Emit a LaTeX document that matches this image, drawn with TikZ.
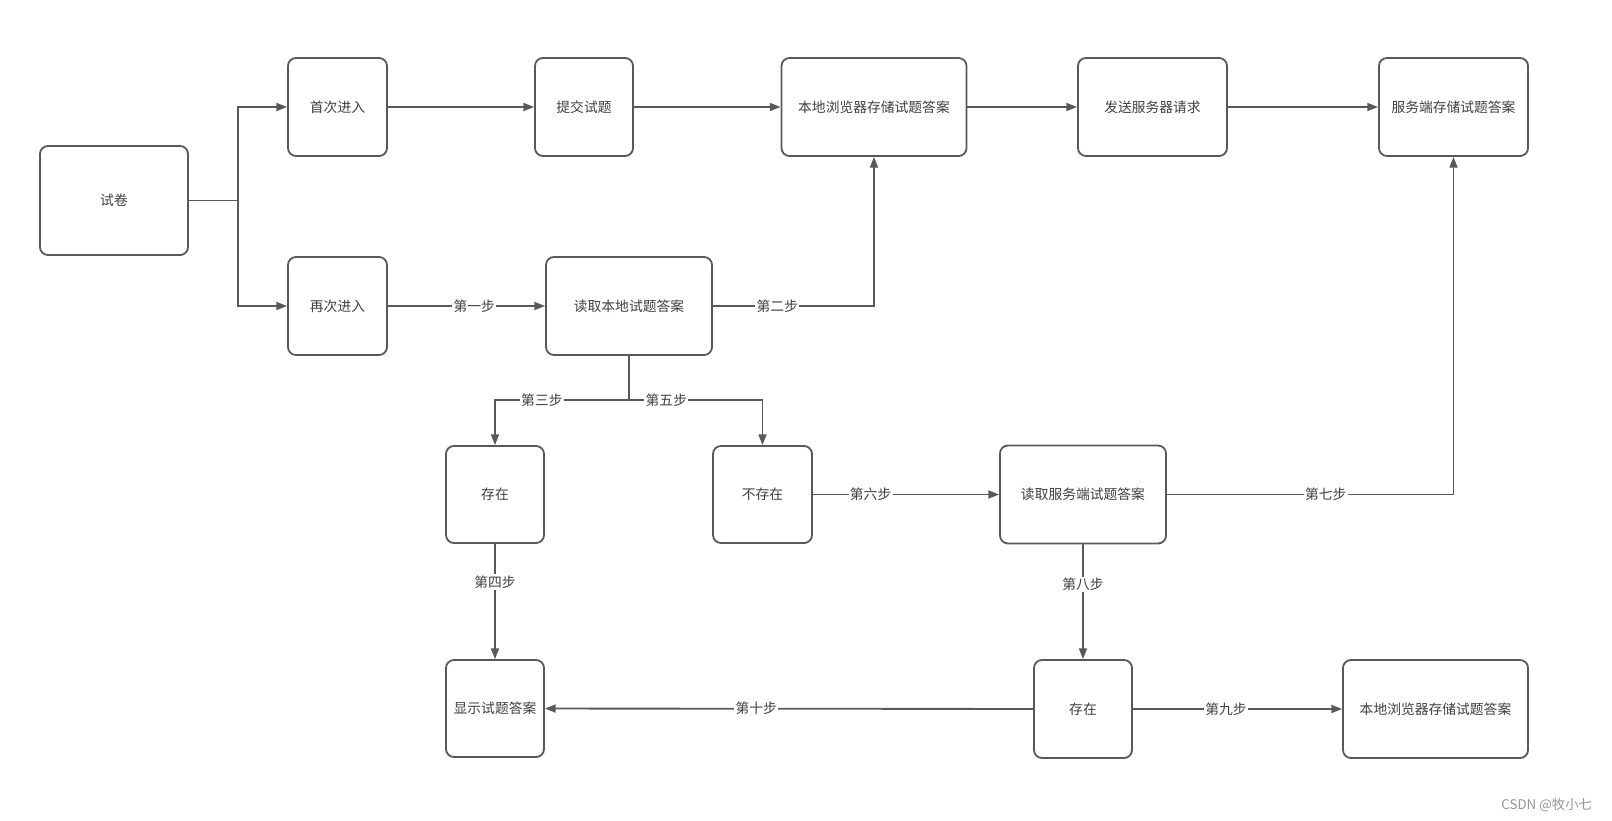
\documentclass[tikz,border=0pt]{standalone}
\usepackage{fontspec}
\newfontfamily\cjk{Noto Sans CJK SC}
\usepackage{tikz}
\usetikzlibrary{arrows.meta, positioning, calc}
\definecolor{linegray}{RGB}{89,89,89}
\definecolor{textgray}{RGB}{64,64,64}
\definecolor{markgray}{RGB}{150,150,150}

\begin{document}
\begin{tikzpicture}[x=0.025cm, y=-0.025cm,
    >={Triangle[length=0.27cm, width=0.2cm]},
    box/.style={draw=linegray, line width=1.3pt, rounded corners=0.2cm, fill=white,
      inner sep=1pt, text=textgray, font=\cjk\fontsize{9.8}{12}\selectfont, align=center},
    link/.style={draw=linegray, line width=1.3pt},
    steplabel/.style={fill=white, inner sep=1pt, text=textgray, font=\cjk\fontsize{9.8}{12}\selectfont}]
      \useasboundingbox (0,0) rectangle (1612,821);

      % top row
      \node[box, minimum width=3.7cm, minimum height=2.725cm] (paper) at (114,200.5) {试卷};
      \node[box, minimum width=2.475cm, minimum height=2.45cm] (first) at (337.5,107) {首次进入};
      \node[box, minimum width=2.45cm, minimum height=2.45cm] (submit) at (584,107) {提交试题};
      \node[box, minimum width=4.625cm, minimum height=2.45cm] (localsave) at (874,107) {本地浏览器存储试题答案};
      \node[box, minimum width=3.725cm, minimum height=2.45cm] (request) at (1152.5,107) {发送服务器请求};
      \node[box, minimum width=3.725cm, minimum height=2.45cm] (serversave) at (1453.5,107) {服务端存储试题答案};

      % second row
      \node[box, minimum width=2.475cm, minimum height=2.45cm] (again) at (337.5,306) {再次进入};
      \node[box, minimum width=4.15cm, minimum height=2.45cm] (readlocal) at (629,306) {读取本地试题答案};

      % third row
      \node[box, minimum width=2.45cm, minimum height=2.425cm] (exist) at (495,494.5) {存在};
      \node[box, minimum width=2.475cm, minimum height=2.425cm] (notexist) at (762.5,494.5) {不存在};
      \node[box, minimum width=4.15cm, minimum height=2.45cm] (readserver) at (1083,494.5) {读取服务端试题答案};

      % bottom row
      \node[box, minimum width=2.45cm, minimum height=2.425cm] (show) at (495,708.5) {显示试题答案};
      \node[box, minimum width=2.45cm, minimum height=2.45cm] (existserver) at (1083,709) {存在};
      \node[box, minimum width=4.625cm, minimum height=2.45cm] (localsavetwo) at (1435.5,709) {本地浏览器存储试题答案};

      \coordinate (split) at (238,200.5);
      \coordinate (branch) at (629,400);

      \draw[link] (paper) -- (split);
      \draw[link, ->] (split) |- (first);
      \draw[link, ->] (split) |- (again);
      \draw[link, ->] (first) -- (submit);
      \draw[link, ->] (submit) -- (localsave);
      \draw[link, ->] (localsave) -- (request);
      \draw[link, ->] (request) -- (serversave);

      \draw[link, ->] (again) -- node[steplabel, pos=0.55] {第一步} (readlocal);
      \draw[link, ->] (readlocal.east) -| node[steplabel, pos=0.2] {第二步} (localsave.south);
      \draw[link] (readlocal.south) -- (branch);
      \draw[link, ->] (branch) -| node[steplabel, pos=0.325] {第三步} (exist.north);
      \draw[link, ->] (branch) -| node[steplabel, pos=0.14] {第五步} (notexist.north);
      \draw[link, ->] (exist) -- node[steplabel, pos=0.33] {第四步} (show);
      \draw[link, ->] (notexist) -- node[steplabel, pos=0.31] {第六步} (readserver);
      \draw[link, ->] (readserver.east) -| node[steplabel, pos=0.277] {第七步} (serversave.south);
      \draw[link, ->] (readserver) -- node[steplabel, pos=0.35] {第八步} (existserver);
      \draw[link, ->] (existserver) -- node[steplabel, pos=0.445] {第九步} (localsavetwo);
      \draw[link, ->] (existserver) -- node[steplabel, pos=0.567] {第十步} (show);

      \node[text=markgray, font=\cjk\fontsize{9.5}{11}\selectfont, anchor=east] (mark) at (1597,805) {CSDN @牧小七};
    \end{tikzpicture}
\end{document}
